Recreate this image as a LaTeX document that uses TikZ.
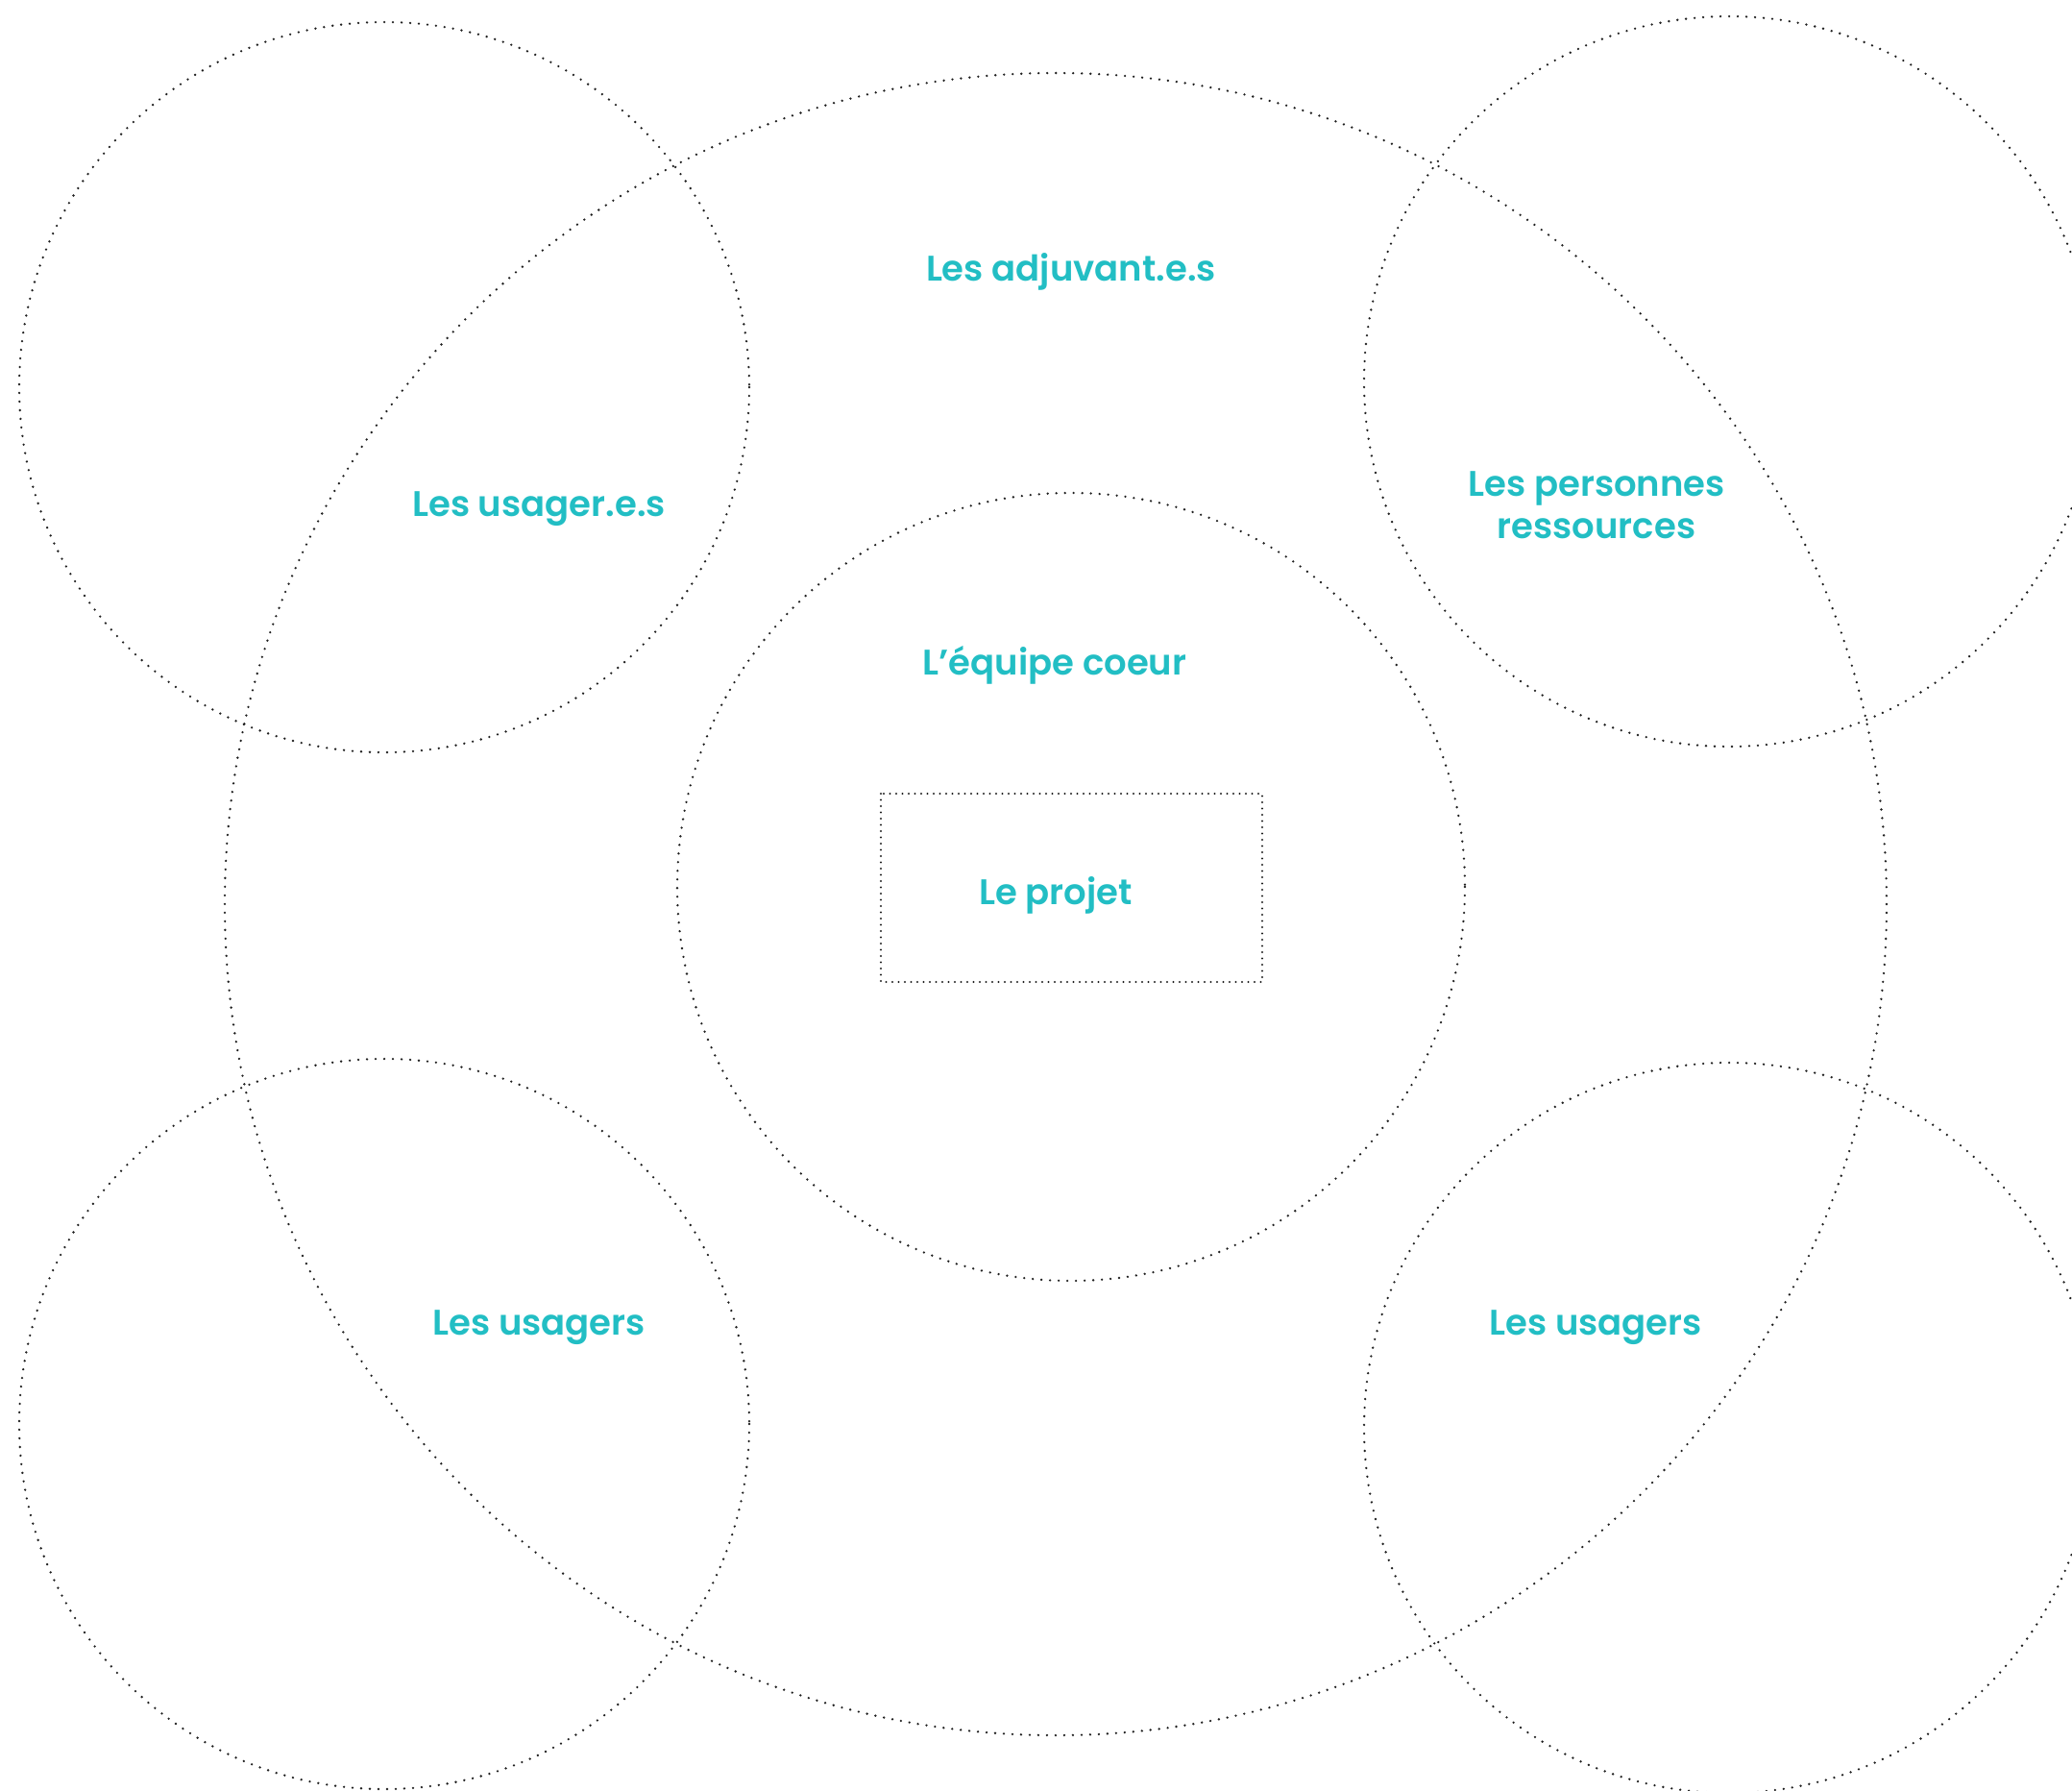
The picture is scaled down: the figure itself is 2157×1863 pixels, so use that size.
\documentclass[tikz,border=0pt]{standalone}
\usepackage{fontspec}
\setmainfont{Poppins}[BoldFont={Poppins SemiBold}]
\definecolor{teal2}{HTML}{22BEC4}
\definecolor{dotgray}{HTML}{202020}
\tikzset{
  dotline/.style={draw=dotgray, line width=2.6pt, line cap=round, dash pattern=on 0pt off 9pt},
  boxline/.style={draw=dotgray, line width=2.2pt, line cap=round, dash pattern=on 0pt off 6.5pt},
  lbl/.style={text=teal2, font=\fontsize{37}{44}\selectfont\bfseries, anchor=base, align=center, inner sep=0pt}
}
\begin{document}
\begin{tikzpicture}[x=1pt,y=-1pt]
\useasboundingbox (0,0) rectangle (2157,1863);
\clip (0,0) rectangle (2157,1863);
% circles
\draw[dotline] (1099,941) circle [radius=865];
\draw[dotline] (400,403) circle [radius=380];
\draw[dotline] (400,1482) circle [radius=380];
\draw[dotline] (1800,397) circle [radius=380];
\draw[dotline] (1800,1486) circle [radius=380];
\draw[dotline] (1115,923) circle [radius=410];
\draw[boxline] (917,826) rectangle (1314,1022);
% labels
\node[lbl] (adj) at (1115,292) {Les adjuvant.e.s};
\node[lbl] (usee) at (561,537) {Les usager.e.s};
\node[lbl] (pers) at (1662,516) {Les personnes};
\node[lbl] (ress) at (1662,560) {ressources};
\node[lbl] (equipe) at (1098,702) {L’équipe coeur};
\node[lbl] (projet) at (1099,941) {Le projet};
\node[lbl] (usl) at (561,1389) {Les usagers};
\node[lbl] (usr) at (1661,1389) {Les usagers};
\end{tikzpicture}
\end{document}
